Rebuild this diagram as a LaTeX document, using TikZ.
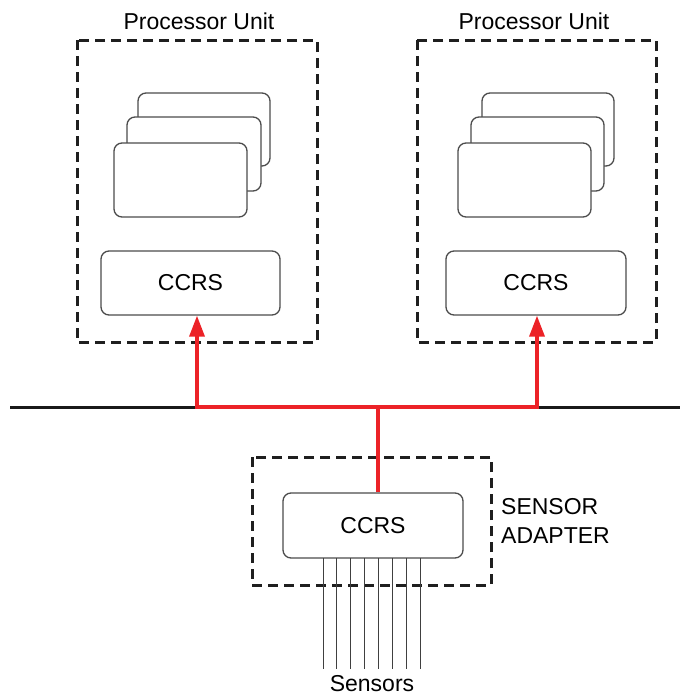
\documentclass[tikz,border=0pt]{standalone}
\usepackage{fontspec}
\setmainfont{Liberation Sans}
\usetikzlibrary{arrows.meta}
\definecolor{linkred}{RGB}{236,34,39}
\begin{document}
\begin{tikzpicture}[x=1pt,y=-1pt,
  unitbox/.style={draw=black!88,line width=3pt,dash pattern=on 10pt off 6pt},
  card/.style={draw=black!70,line width=1.3pt,fill=white,rounded corners=8pt},
  lbl/.style={font=\fontsize{23}{26}\selectfont,inner sep=0pt},
  redline/.style={draw=linkred,line width=3.4pt},
  redarrow/.style={redline,-{Triangle[width=15pt,length=21pt]}}]
\useasboundingbox (0,0) rectangle (680,696);
% bus
\draw[line width=3pt,black!90] (10,407) -- (680,407);
% left processor unit
\draw[unitbox] (77,40) rectangle (317,342);
\node[lbl] (titleL) at (199,21) {Processor Unit};
\draw[card] (138,93) rectangle (270,166);
\draw[card] (127,117) rectangle (261,191);
\draw[card] (114,143) rectangle (247,217);
\node[card,minimum width=179pt,minimum height=64pt,inner sep=0pt] (ccrsL) at (190.5,283) {};
\node[lbl] at (ccrsL) {CCRS};
% right processor unit
\draw[unitbox] (417,40) rectangle (656,342);
\node[lbl] (titleR) at (534,21) {Processor Unit};
\draw[card] (482,93) rectangle (614,166);
\draw[card] (471,117) rectangle (604,191);
\draw[card] (458,143) rectangle (591,217);
\node[card,minimum width=180pt,minimum height=64pt,inner sep=0pt] (ccrsR) at (536,283) {};
\node[lbl] at (ccrsR) {CCRS};
% sensor adapter
\draw[unitbox] (252,457) rectangle (491,585);
\node[card,minimum width=180pt,minimum height=65pt,inner sep=0pt] (ccrsS) at (373,525.5) {};
\node[lbl] at (ccrsS) {CCRS};
\node[lbl,align=left,anchor=west,font=\fontsize{23}{29}\selectfont] (sa) at (501,521) {SENSOR\\ADAPTER};
% sensors
\foreach \i in {0,...,7}{
  \draw[black!75,line width=1pt] (323+13.86*\i,558) -- (323+13.86*\i,669);
}
\node[lbl] (sensors) at (372,684) {Sensors};
% red connectors
\coordinate (j) at (378,407);
\draw[redline] (ccrsS.north -| j) -- (j);
\draw[redarrow] (j) -| (ccrsL.south -| 197,0);
\draw[redarrow] (j) -| (ccrsR.south -| 537,0);
\end{tikzpicture}
\end{document}
